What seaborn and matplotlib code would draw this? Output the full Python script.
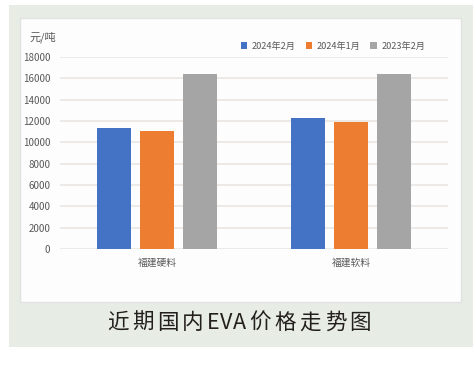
import matplotlib
matplotlib.use("Agg")
import matplotlib.pyplot as plt
from matplotlib.patches import Rectangle
import pandas as pd
import seaborn as sns

# data
categories = ["福建硬料", "福建软料"]
series = ["2024年2月", "2024年1月", "2023年2月"]
feb_2024 = [11300, 12250]
jan_2024 = [11100, 11880]
feb_2023 = [16450, 16450]
yticks = list(range(0, 18001, 2000))
caption = "近期国内EVA价格走势图"

colors = ["#4472C4", "#ED7D31", "#A5A5A5"]

df = pd.DataFrame({
    "cat": categories * 3,
    "series": [s for s in series for _ in categories],
    "value": feb_2024 + jan_2024 + feb_2023,
})

sns.set_style("white")
plt.rcParams["font.family"] = ["Noto Sans CJK SC", "DejaVu Sans"]

W, H = 475, 376
fig = plt.figure(figsize=(W / 100, H / 100), dpi=100)
fig.patch.set_facecolor("white")

# green outer panel and white inner card
fig.patches.append(Rectangle((9 / W, 1 - 347 / H), 464 / W, 342 / H,
                             transform=fig.transFigure, facecolor="#E7ECE5",
                             edgecolor="none", zorder=0))
fig.patches.append(Rectangle((20 / W, 1 - 302 / H), 441 / W, 284 / H,
                             transform=fig.transFigure, facecolor="#FDFDFD",
                             edgecolor="#E2E2E2", linewidth=1, zorder=1))

ax = fig.add_axes([60 / W, 1 - 249 / H, 388 / W, 192 / H])
ax.set_zorder(2)
ax.set_facecolor("none")

sns.barplot(data=df, x="cat", y="value", hue="series", hue_order=series,
            palette=colors, saturation=1, width=0.667, gap=0.2, linewidth=0,
            ax=ax, zorder=3)

ax.set_ylim(0, 18000)
ax.set_yticks(yticks)
ax.set_yticklabels([str(t) for t in yticks], fontsize=7, color="#595959")
ax.grid(axis="y", color="#E8E4E1", linewidth=1.1, zorder=0)
ax.set_axisbelow(True)
for s in ax.spines.values():
    s.set_visible(False)
ax.tick_params(axis="y", length=0, pad=7)
ax.tick_params(axis="x", length=0, pad=6, labelsize=7, labelcolor="#595959")
ax.set_xlabel("")
ax.set_ylabel("")

ax.legend(loc="center", bbox_to_anchor=(333 / W, 1 - 46 / H),
          bbox_transform=fig.transFigure, ncol=3, frameon=False,
          fontsize=6.6, handlelength=0.7, handleheight=0.7,
          handletextpad=0.5, columnspacing=1.1, labelcolor="#595959")

fig.text(30 / W, 1 - 37 / H, "元/吨", fontsize=8, color="#595959",
         va="center", ha="left", zorder=5)

# caption: CJK glyphs a bit spaced out, the latin "EVA" kept tight
renderer = fig.canvas.get_renderer()
chars = [fig.text(0, 1 - 323 / H, c, fontsize=15.5, fontweight="medium",
                  color="#231F1C", va="center", ha="left", zorder=5)
         for c in caption]
widths = [t.get_window_extent(renderer).width for t in chars]
gaps = []
for a, b in zip(caption[:-1], caption[1:]):
    gaps.append(0.5 if (a.isascii() and b.isascii()) else 3.5)
total = sum(widths) + sum(gaps)
x = 239 - total / 2
for i, (t, w) in enumerate(zip(chars, widths)):
    t.set_x(x / W)
    x += w + (gaps[i] if i < len(gaps) else 0)

fig.savefig("out.png", dpi=100)
